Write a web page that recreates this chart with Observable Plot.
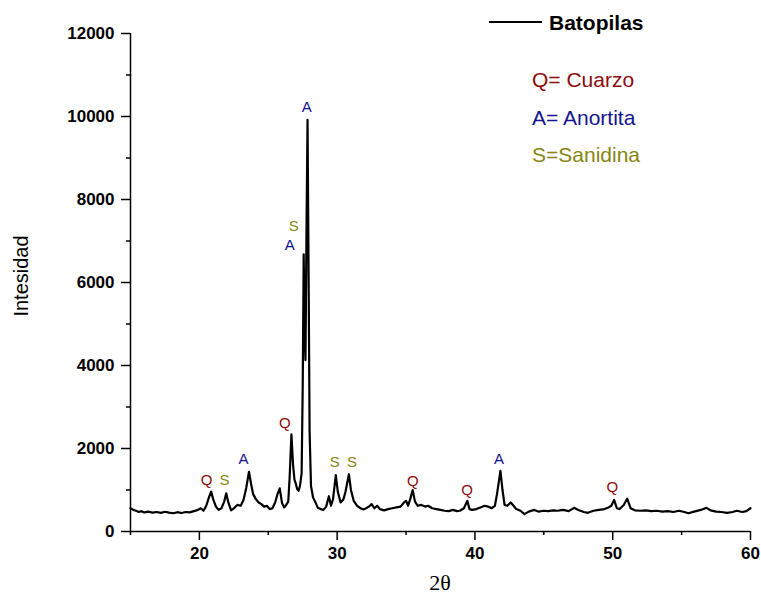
<!DOCTYPE html>
<html>
<head>
<meta charset="utf-8">
<script src="https://cdn.jsdelivr.net/npm/d3@7"></script>
<script src="https://cdn.jsdelivr.net/npm/@observablehq/plot@0.6"></script>
<style>
  html, body { margin: 0; padding: 0; background: #fff; }
  #chart { position: relative; width: 761px; height: 604px; }
  svg { font-family: "Liberation Sans", Arial, sans-serif; }
  g[aria-label="x-axis tick label"] text, g[aria-label="y-axis tick label"] text { font-weight: bold; font-size: 17px; fill: #000; }
</style>
</head>
<body>
<div id="chart"></div>
<script>
// 2θ values (degrees)
const twoTheta = [
15.0,15.2,15.4,15.6,15.8,16.0,16.3,16.6,16.9,17.2,17.5,17.8,18.1,18.4,18.7,19.0,19.3,19.6,19.9,20.1,
20.3,20.5,20.7,20.85,21.0,21.2,21.4,21.6,21.8,21.95,22.1,22.3,22.5,22.75,23.0,23.2,23.4,23.6,23.75,23.9,
24.1,24.3,24.5,24.7,24.9,25.1,25.3,25.5,25.65,25.83,26.0,26.15,26.3,26.45,26.55,26.68,26.8,26.9,27.0,27.1,
27.2,27.3,27.42,27.5,27.57,27.64,27.7,27.78,27.85,27.93,28.0,28.1,28.25,28.4,28.6,28.8,29.0,29.2,29.4,29.55,
29.7,29.9,30.05,30.25,30.45,30.6,30.85,31.0,31.2,31.45,31.7,31.9,32.1,32.3,32.5,32.7,32.9,33.1,33.4,33.7,
34.0,34.3,34.6,34.85,35.0,35.15,35.3,35.48,35.65,35.85,36.1,36.4,36.6,36.9,37.2,37.5,37.8,38.1,38.4,38.7,
38.9,39.2,39.45,39.6,39.8,40.1,40.4,40.7,40.95,41.2,41.45,41.6,41.85,42.0,42.15,42.35,42.6,42.8,43.0,43.3,
43.6,43.9,44.3,44.6,45.0,45.3,45.7,46.0,46.4,46.8,47.2,47.5,47.9,48.2,48.6,49.0,49.4,49.7,49.9,50.1,
50.3,50.5,50.8,51.05,51.3,51.6,52.0,52.4,52.8,53.2,53.6,54.0,54.4,54.8,55.2,55.5,55.9,56.4,56.8,57.1,
57.5,57.9,58.3,58.7,59.0,59.4,59.7,60.0
];
// Intensity (counts)
const intensity = [
560,520,500,470,490,460,480,455,470,450,475,455,440,465,445,470,460,490,520,560,
500,620,830,960,780,600,520,560,720,920,700,510,560,640,620,760,1050,1440,1150,900,
780,700,660,600,620,540,560,700,880,1040,680,580,640,720,1300,2340,1600,1250,1150,1020,
980,1100,1400,3500,6680,4800,4130,7500,9920,6000,2400,1100,820,720,570,540,520,600,850,620,
780,1360,950,700,770,950,1380,1000,740,620,560,530,560,600,660,560,620,540,510,540,
560,580,600,700,740,620,780,1000,720,620,640,600,620,560,540,520,500,490,520,490,
500,560,740,540,520,540,580,620,600,560,620,900,1460,1000,640,620,700,620,540,500,
420,480,520,480,500,490,510,500,520,490,570,520,470,450,500,520,540,580,620,760,
560,540,640,790,560,510,500,510,490,500,480,490,470,500,470,440,480,520,570,510,
480,470,450,470,500,470,490,560
];

// Phase annotations
const annLabel = ["Q","S","A","Q","A","S","A","S","S","Q","Q","A","Q"];
const annX = [20.52,21.83,23.21,26.20,26.56,26.85,27.79,29.83,31.07,35.50,39.43,41.75,49.97];
const annY = [1226,1226,1731,2621,6902,7359,10221,1659,1659,1202,986,1731,1058];

// Axis ticks
const xDomain = [15, 60];
const yDomain = [0, 12000];
const xMajor = [20, 30, 40, 50, 60];
const xMinor = [15, 25, 35, 45, 55];
const yMajor = [0, 2000, 4000, 6000, 8000, 10000, 12000];
const yMinor = [1000, 3000, 5000, 7000, 9000, 11000];

// Legend entries
const seriesName = "Batopilas";
const phaseText = ["Q= Cuarzo", "A= Anortita", "S=Sanidina"];
const phaseColor = {Q: "#8e0b0b", A: "#14148f", S: "#868612"};

const data = twoTheta.map((x, i) => ({x, y: intensity[i]}));
const ann = annLabel.map((t, i) => ({t, x: annX[i], y: annY[i]}));

const plot = Plot.plot({
  width: 761,
  height: 604,
  marginLeft: 130,
  marginRight: 11,
  marginTop: 33,
  marginBottom: 73,
  style: {fontFamily: '"Liberation Sans", Arial, sans-serif', fontSize: "17px", background: "#fff"},
  x: {domain: xDomain},
  y: {domain: yDomain},
  marks: [
    Plot.axisX({ticks: xMajor, tickSize: 9, tickPadding: 6, label: null, fontSize: 17, fontWeight: "bold", tickFormat: d => String(d), strokeWidth: 1.5}),
    Plot.axisX({ticks: xMinor, tickSize: 4, text: null, label: null, strokeWidth: 1.5}),
    Plot.axisY({ticks: yMajor, tickSize: 9, tickPadding: 7, label: null, fontSize: 17, fontWeight: "bold", tickFormat: d => String(d), strokeWidth: 1.5}),
    Plot.axisY({ticks: yMinor, tickSize: 4, text: null, label: null, strokeWidth: 1.5}),
    Plot.ruleX([xDomain[0]], {stroke: "#000", strokeWidth: 1.5}),
    Plot.ruleY([yDomain[0]], {stroke: "#000", strokeWidth: 1.5}),
    Plot.line(data, {x: "x", y: "y", stroke: "#000", strokeWidth: 2.2, strokeLinejoin: "round"}),
    Plot.text(ann, {x: "x", y: "y", text: "t", fill: d => phaseColor[d.t], fontSize: 15})
  ]
});

document.getElementById("chart").appendChild(plot);

// Axis titles and legend
const svg = d3.select(plot);
svg.append("text")
  .attr("transform", "translate(28,276) rotate(-90)")
  .attr("text-anchor", "middle")
  .style("font-size", "20px")
  .text("Intesidad");
svg.append("text")
  .attr("x", 440).attr("y", 590)
  .attr("text-anchor", "middle")
  .style("font-family", '"Liberation Serif", "Times New Roman", serif')
  .style("font-size", "22px")
  .text("2θ");
svg.append("line")
  .attr("x1", 489).attr("x2", 542).attr("y1", 22).attr("y2", 22)
  .attr("stroke", "#000").attr("stroke-width", 2);
svg.append("text")
  .attr("x", 549).attr("y", 30)
  .attr("text-anchor", "start")
  .style("font-size", "21px").style("font-weight", "bold")
  .text(seriesName);
const keys = ["Q", "A", "S"];
phaseText.forEach((t, i) => {
  svg.append("text")
    .attr("x", 532).attr("y", 87 + i * 37.5)
    .attr("text-anchor", "start")
    .style("font-size", "21px")
    .attr("fill", phaseColor[keys[i]])
    .text(t);
});
</script>
</body>
</html>
